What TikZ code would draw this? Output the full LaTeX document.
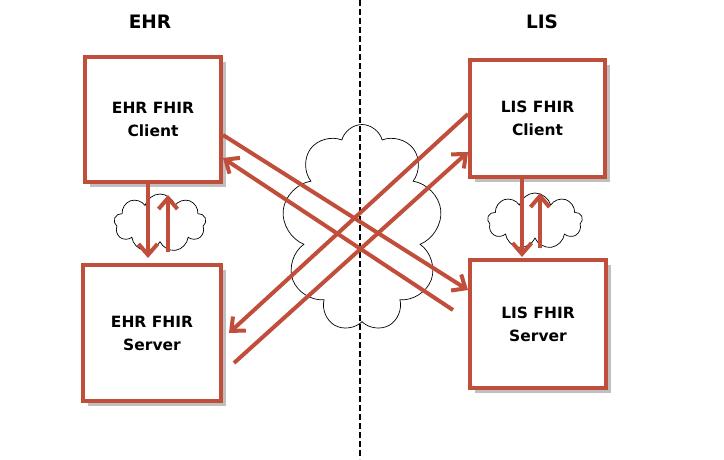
\documentclass[tikz,border=0pt]{standalone}
\usepackage{fontspec}
\setmainfont{DejaVu Sans}
\usetikzlibrary{arrows.meta,shapes.symbols,shadows}
\definecolor{fhirred}{RGB}{192,78,58}

\begin{document}
\begin{tikzpicture}[x=1pt,y=-1pt]
		\tikzset{system/.style={draw=fhirred, line width=4pt, fill=white, align=center,
				font=\bfseries\fontsize{15.5}{23}\selectfont,
				drop shadow={shadow xshift=5pt, shadow yshift=-5pt, opacity=0.5}}}
		\tikzset{side/.style={font=\bfseries\fontsize{18.5}{20}\selectfont}}
		\tikzset{net/.style={cloud, cloud puffs=10, cloud ignores aspect, draw=black, line width=0.7pt}}
		\tikzset{link/.style={draw=fhirred, line width=4pt, -{Straight Barb[length=11pt,width=19pt]}}}
		\useasboundingbox (0,0) rectangle (724,459);
		\node[side] (ehr) at (150,22) {EHR};
		\node[side] (lis) at (542,22) {LIS};
		% clouds
		\node[net, cloud puffs=9, minimum width=160pt, minimum height=207pt] (web) at (362,228) {};
		\node[net, cloud puffs=9, fill=white, minimum width=92pt, minimum height=58pt] (ehrnet) at (160,223) {};
		\node[net, cloud puffs=9, fill=white, minimum width=95pt, minimum height=56pt] (lisnet) at (535,221) {};
		% divider between the two systems
		\coordinate (top) at (360,0);
		\coordinate (bottom) at (360,459);
		\draw[black, line width=1.6pt, dash pattern=on 6pt off 3pt] (top) -- (bottom);
		% systems
		\node[system, minimum width=136pt, minimum height=125pt] (ehrclient) at (153,119.5) {EHR FHIR\\Client};
		\node[system, minimum width=138pt, minimum height=136pt] (ehrserver) at (152,333) {EHR FHIR\\Server};
		\node[system, minimum width=135pt, minimum height=117pt] (lisclient) at (537.5,118.5) {LIS FHIR\\Client};
		\node[system, minimum width=136pt, minimum height=128pt] (lisserver) at (538,324) {LIS FHIR\\Server};
		% local links
		\draw[link, shorten >=5pt] ([xshift=-5pt]ehrclient.south) -- ([xshift=-5pt]ehrclient.south |- ehrserver.north);
		\draw[link, shorten <=11pt, shorten >=11pt] ([xshift=15pt]ehrclient.south |- ehrserver.north) -- ([xshift=15pt]ehrclient.south);
		\draw[link, shorten >=1pt] ([xshift=-15.5pt]lisclient.south) -- ([xshift=-15.5pt]lisclient.south |- lisserver.north);
		\draw[link, shorten <=10pt, shorten >=14pt] ([xshift=2.5pt]lisclient.south |- lisserver.north) -- ([xshift=2.5pt]lisclient.south);
		% links across the network
		\draw[link] ([yshift=-15.5pt]ehrclient.east) -- ([yshift=34pt]lisserver.west);
		\draw[link] ([shift={(-15pt,14pt)}]lisserver.west) -- ([yshift=-38.5pt]ehrclient.east);
		\draw[link] ([shift={(11pt,-30pt)}]ehrserver.east) -- ([yshift=-33.5pt]lisclient.west);
		\draw[link] ([yshift=4.5pt]lisclient.west) -- ([xshift=6pt]ehrserver.east);
\end{tikzpicture}
\end{document}
